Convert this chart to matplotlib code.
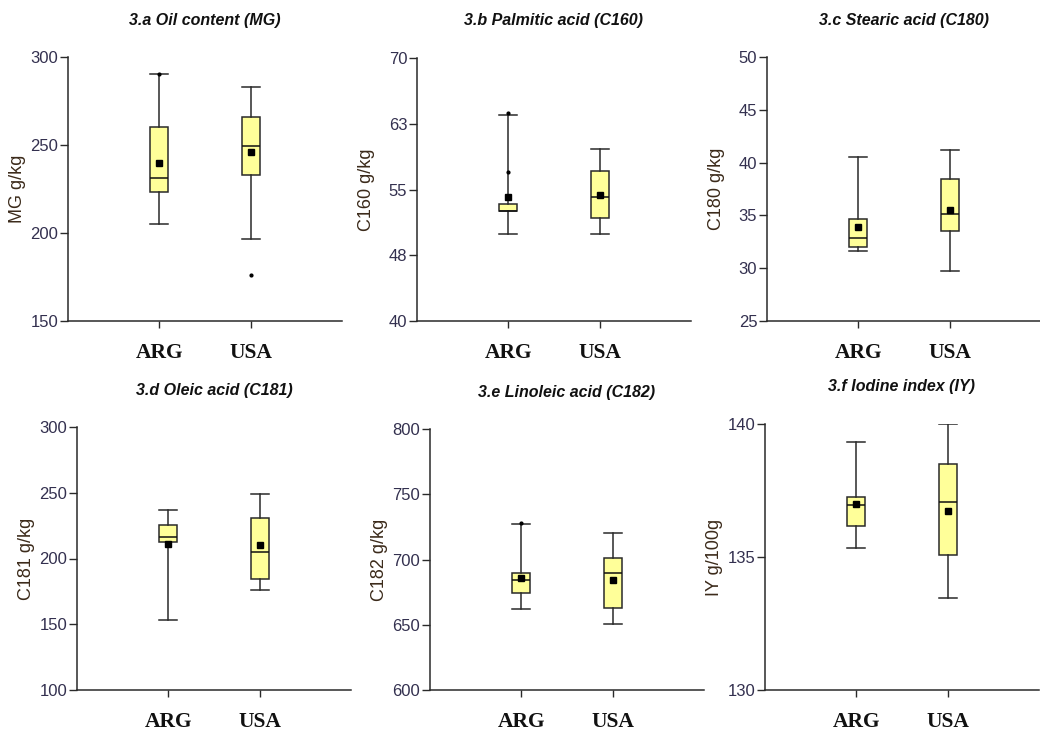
import matplotlib
matplotlib.use("Agg")
import matplotlib.pyplot as plt

groups = ["ARG", "USA"]

titles = ["3.a Oil content (MG)", "3.b Palmitic acid (C160)", "3.c Stearic acid (C180)",
          "3.d Oleic acid (C181)", "3.e Linoleic acid (C182)", "3.f Iodine index (IY)"]
ylabels = ["MG g/kg", "C160 g/kg", "C180 g/kg", "C181 g/kg", "C182 g/kg", "IY g/100g"]
ylims = [(150, 300), (40, 70), (25, 50), (100, 300), (600, 800), (130, 140)]
yticks = [[150, 200, 250, 300], [40, 47.5, 55, 62.5, 70], [25, 30, 35, 40, 45, 50],
          [100, 150, 200, 250, 300], [600, 650, 700, 750, 800], [130, 135, 140]]
yticklabels = [["150", "200", "250", "300"], ["40", "48", "55", "63", "70"],
               ["25", "30", "35", "40", "45", "50"], ["100", "150", "200", "250", "300"],
               ["600", "650", "700", "750", "800"], ["130", "135", "140"]]

# box statistics per panel, [ARG, USA]
whislo = [[205.1, 196.6], [49.9, 49.9], [31.6, 29.7], [153.3, 176.4], [662.3, 650.6], [135.32, 133.45]]
q1 = [[223.3, 232.8], [52.5, 51.8], [32.05, 33.5], [212.4, 184.3], [674.0, 663.0], [136.18, 135.07]]
med = [[231.3, 249.4], [52.6, 54.2], [32.87, 35.17], [216.2, 205.3], [684.6, 689.5], [136.97, 137.06]]
q3 = [[260.2, 266.0], [53.4, 57.1], [34.7, 38.4], [225.4, 230.5], [689.5, 700.9], [137.27, 138.51]]
whishi = [[290.5, 283.0], [63.55, 59.6], [40.55, 41.2], [236.8, 249.2], [727.1, 720.0], [139.34, 140.0]]
means = [[239.6, 246.0], [54.1, 54.35], [33.94, 35.55], [211.4, 209.9], [685.9, 684.1], [137.0, 136.73]]
fliers = [[[290.6], [176.1]], [[63.7, 57.0], []], [[], []],
          [[], []], [[728.0], []], [[], []]]

fig = plt.figure(figsize=(10.4, 7.31), dpi=100)

# axes rectangles in pixels: left, top, right, bottom
W, H = 1040.0, 731.0
rects = [(68, 57, 342, 321), (417, 58, 691, 321), (767, 57, 1041, 321),
         (77, 427, 351, 690), (430, 429, 704, 690), (765, 424, 1039, 690)]

tick_col = "#33304f"
line_col = "#2a2a2a"
sans = "Liberation Sans"

for i in range(6):
    l, t, r, b = rects[i]
    ax = fig.add_axes([l / W, 1 - b / H, (r - l) / W, (b - t) / H])
    stats = []
    for j in range(2):
        stats.append(dict(label=groups[j], whislo=whislo[i][j], q1=q1[i][j], med=med[i][j],
                          q3=q3[i][j], whishi=whishi[i][j], mean=means[i][j], fliers=fliers[i][j]))
    ax.bxp(stats, positions=[1, 2], widths=0.2, capwidths=0.2, patch_artist=True,
           showmeans=True, showfliers=True,
           boxprops=dict(facecolor="#ffff99", edgecolor=line_col, linewidth=1.1),
           medianprops=dict(color="#111111", linewidth=1.1),
           whiskerprops=dict(color=line_col, linewidth=1.1),
           capprops=dict(color=line_col, linewidth=1.1),
           meanprops=dict(marker="s", markerfacecolor="black", markeredgecolor="black", markersize=4.5),
           flierprops=dict(marker="o", markerfacecolor="black", markeredgecolor="black", markersize=2))
    ax.set_xlim(0, 3)
    ax.set_ylim(*ylims[i])
    ax.set_yticks(yticks[i])
    ax.set_yticklabels(yticklabels[i], fontsize=12, color=tick_col, family=sans)
    ax.set_xticks([1, 2])
    ax.set_xticklabels(groups, fontsize=15.5, fontweight="bold", family="Liberation Serif", color="#111111")
    ax.tick_params(axis="x", direction="out", length=5, width=1, color=line_col, pad=11)
    ax.tick_params(axis="y", direction="out", length=6, width=1, color=line_col, pad=1)
    for s in ["top", "right"]:
        ax.spines[s].set_visible(False)
    for s in ["left", "bottom"]:
        ax.spines[s].set_color(line_col)
        ax.spines[s].set_linewidth(1.1)
    ax.set_ylabel(ylabels[i], fontsize=13, color="#3b2a1a", family=sans)
    ax.yaxis.set_label_coords(-0.155, 0.5)
    ax.text(0.5, 1 + 37.0 / (b - t), titles[i], transform=ax.transAxes, ha="center", va="center",
            fontsize=11.5, fontweight="bold", fontstyle="italic", color="#111111", family=sans)

fig.savefig("out.png", dpi=100)
